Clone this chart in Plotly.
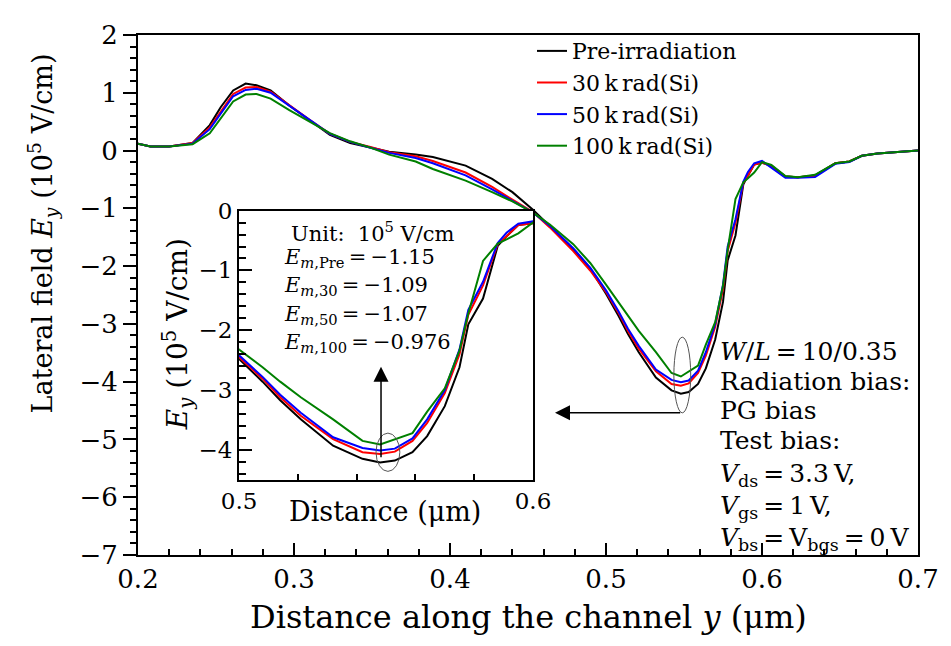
import plotly.graph_objects as go

# ---------------- data ----------------
distance = [0.200, 0.208, 0.220, 0.235, 0.246, 0.253, 0.261, 0.269, 0.276, 0.285,
            0.297, 0.310, 0.323, 0.336, 0.349, 0.361, 0.378, 0.389, 0.410, 0.427,
            0.440, 0.453, 0.464, 0.479, 0.490, 0.500, 0.508, 0.514, 0.521, 0.532,
            0.542, 0.548, 0.553, 0.559, 0.564, 0.570, 0.575, 0.578, 0.583, 0.588,
            0.591, 0.595, 0.600, 0.606, 0.615, 0.623, 0.634, 0.647, 0.656, 0.664,
            0.674, 0.700]

ey_pre = [0.12, 0.07, 0.07, 0.13, 0.44, 0.75, 1.04, 1.16, 1.13, 1.04,
          0.78, 0.53, 0.27, 0.13, 0.05, -0.02, -0.07, -0.11, -0.26, -0.49,
          -0.72, -1.02, -1.31, -1.71, -2.05, -2.48, -2.86, -3.17, -3.49, -3.93,
          -4.15, -4.21, -4.18, -4.04, -3.77, -3.27, -2.62, -1.90, -1.47, -0.59,
          -0.43, -0.24, -0.21, -0.26, -0.45, -0.46, -0.43, -0.22, -0.19, -0.09,
          -0.05, 0.00]

ey_30 = [0.12, 0.07, 0.07, 0.13, 0.40, 0.68, 0.98, 1.09, 1.10, 1.02,
         0.78, 0.53, 0.29, 0.15, 0.06, -0.03, -0.10, -0.18, -0.38, -0.63,
         -0.85, -1.06, -1.33, -1.74, -2.08, -2.45, -2.81, -3.12, -3.43, -3.82,
         -4.04, -4.07, -4.03, -3.85, -3.55, -3.05, -2.40, -1.74, -1.25, -0.56,
         -0.43, -0.24, -0.21, -0.27, -0.45, -0.46, -0.44, -0.22, -0.19, -0.09,
         -0.05, 0.00]

ey_50 = [0.12, 0.07, 0.07, 0.12, 0.37, 0.64, 0.94, 1.05, 1.07, 1.00,
         0.77, 0.53, 0.29, 0.15, 0.05, -0.04, -0.13, -0.22, -0.43, -0.67,
         -0.87, -1.07, -1.30, -1.69, -2.03, -2.42, -2.78, -3.08, -3.38, -3.79,
         -3.97, -4.01, -3.98, -3.81, -3.49, -3.00, -2.32, -1.66, -1.19, -0.54,
         -0.37, -0.22, -0.18, -0.30, -0.47, -0.47, -0.46, -0.23, -0.20, -0.09,
         -0.05, 0.00]

ey_100 = [0.12, 0.07, 0.07, 0.11, 0.30, 0.55, 0.85, 0.97, 0.98, 0.90,
          0.70, 0.50, 0.30, 0.16, 0.05, -0.07, -0.19, -0.32, -0.52, -0.72,
          -0.88, -1.07, -1.28, -1.62, -1.95, -2.32, -2.62, -2.86, -3.12, -3.49,
          -3.85, -3.91, -3.82, -3.72, -3.36, -2.97, -2.34, -1.72, -0.84, -0.55,
          -0.48, -0.38, -0.20, -0.25, -0.44, -0.46, -0.42, -0.22, -0.19, -0.09,
          -0.05, 0.00]

series_names = ["Pre-irradiation", "30\u2009k\u2009rad(Si)", "50\u2009k\u2009rad(Si)", "100\u2009k\u2009rad(Si)"]
series_values = [ey_pre, ey_30, ey_50, ey_100]
series_colors = ["#000000", "#ff0000", "#0000ff", "#008000"]

x_ticks_main = [0.2, 0.3, 0.4, 0.5, 0.6, 0.7]
y_ticks_main = [2, 1, 0, -1, -2, -3, -4, -5, -6, -7]
x_ticks_inset = [0.5, 0.6]
y_ticks_inset = [0, -1, -2, -3, -4]

em_lines = ["<i>E</i><sub><i>m</i>,Pre</sub>\u2009=\u2009\u22121.15",
            "<i>E</i><sub><i>m</i>,30</sub>\u2009=\u2009\u22121.09",
            "<i>E</i><sub><i>m</i>,50</sub>\u2009=\u2009\u22121.07",
            "<i>E</i><sub><i>m</i>,100</sub>\u2009=\u2009\u22120.976"]

info_lines = ["<i>W</i>/<i>L</i>\u2009=\u200910/0.35",
              "Radiation bias:",
              "PG bias",
              "Test bias:",
              "<i>V</i><sub>ds</sub>\u2009=\u20093.3\u2009V,",
              "<i>V</i><sub>gs</sub>\u2009=\u20091\u2009V,",
              "<i>V</i><sub>bs</sub>\u2009=\u2009V<sub>bgs</sub>\u2009=\u20090\u2009V"]

FONT = "DejaVu Serif"

fig = go.Figure()
for name, vals, col in zip(series_names, series_values, series_colors):
    fig.add_trace(go.Scatter(x=distance, y=vals, mode="lines", name=name,
                             line=dict(color=col, width=2), xaxis="x", yaxis="y"))
for name, vals, col in zip(series_names, series_values, series_colors):
    fig.add_trace(go.Scatter(x=distance, y=vals, mode="lines", name=name, showlegend=False,
                             line=dict(color=col, width=2), xaxis="x2", yaxis="y2"))

# layout geometry (page pixels; the page body adds an 8 px offset)
OFF = 8
W, H = 951 - OFF, 646 - OFF
PLOT_L, PLOT_R, PLOT_T, PLOT_B = 138, 920, 25, 555   # page pixels of the main plot frame
L = PLOT_L - OFF
R = W - (PLOT_R - OFF)
T = PLOT_T - OFF
B = H - (PLOT_B - OFF)
pw, ph = PLOT_R - PLOT_L, PLOT_B - PLOT_T


def px_x(p):
    return (p - PLOT_L) / pw


def px_y(p):
    return (PLOT_B - p) / ph


inset_dom_x = [px_x(239.3), px_x(534)]
inset_dom_y = [px_y(478.3), px_y(204)]

fig.update_layout(
    width=W, height=H,
    margin=dict(l=L, r=R, t=T, b=B),
    paper_bgcolor="white", plot_bgcolor="white",
    font=dict(family=FONT, color="black", size=22),
    showlegend=True,
    legend=dict(x=px_x(533), y=px_y(20), xanchor="left", yanchor="top",
                bgcolor="rgba(0,0,0,0)", font=dict(size=22, family=FONT),
                tracegroupgap=0),
    xaxis=dict(domain=[0, 1], range=[0.2, 0.7], tickvals=x_ticks_main,
               ticktext=[f"{v:.1f}" for v in x_ticks_main],
               showline=True, linecolor="black", linewidth=2, mirror=True,
               ticks="inside", ticklen=12, tickwidth=1.5, tickcolor="black",
               minor=dict(dtick=0.02, ticks="inside", ticklen=6, tickwidth=1.5, tickcolor="black"),
               showgrid=False, zeroline=False, tickfont=dict(size=26)),
    yaxis=dict(domain=[0, 1], range=[-7, 2], tickvals=y_ticks_main,
               showline=True, linecolor="black", linewidth=2, mirror=True,
               ticks="outside", ticklen=13, tickwidth=1.5, tickcolor="black",
               minor=dict(dtick=0.2, ticks="outside", ticklen=6, tickwidth=1.5, tickcolor="black"),
               showgrid=False, zeroline=False, tickfont=dict(size=26)),
    xaxis2=dict(domain=inset_dom_x, anchor="y2", range=[0.5, 0.6],
                tickvals=x_ticks_inset, ticktext=["0.5", "0.6"],
                showline=True, linecolor="black", linewidth=2, mirror=True,
                ticks="inside", ticklen=6, tickwidth=1.5, tickcolor="black",
                minor=dict(dtick=0.02, ticks="inside", ticklen=6, tickwidth=1.5, tickcolor="black"),
                showgrid=False, zeroline=False, tickfont=dict(size=23)),
    yaxis2=dict(domain=inset_dom_y, anchor="x2", range=[-4.5, 0],
                tickvals=y_ticks_inset,
                showline=True, linecolor="black", linewidth=2, mirror=True,
                ticks="inside", ticklen=13, tickwidth=1.5, tickcolor="black",
                minor=dict(dtick=0.2, ticks="inside", ticklen=7, tickwidth=1.5, tickcolor="black"),
                showgrid=False, zeroline=False, tickfont=dict(size=23)),
)

annotations = []
# axis titles
annotations.append(dict(text="Distance along the channel <i>y</i> (\u03bcm)", xref="paper", yref="paper",
                        x=px_x(529), y=px_y(618), showarrow=False, font=dict(size=32),
                        xanchor="center", yanchor="middle"))
annotations.append(dict(text="Lateral field <i>E</i><sub><i>y</i></sub> (10<sup>5</sup> V/cm)", xref="paper",
                        yref="paper", x=px_x(42), y=px_y(227), showarrow=False, font=dict(size=27),
                        textangle=-90, xanchor="center", yanchor="middle"))
annotations.append(dict(text="Distance (\u03bcm)", xref="paper", yref="paper",
                        x=px_x(386), y=px_y(511), showarrow=False, font=dict(size=27),
                        xanchor="center", yanchor="middle"))
annotations.append(dict(text="<i>E</i><sub><i>y</i></sub> (10<sup>5</sup> V/cm)", xref="paper",
                        yref="paper", x=px_x(178), y=px_y(330), showarrow=False, font=dict(size=28),
                        textangle=-90, xanchor="center", yanchor="middle"))
# inset texts
annotations.append(dict(text="Unit:  10<sup>5</sup> V/cm", xref="paper", yref="paper",
                        x=px_x(374), y=px_y(226), showarrow=False, font=dict(size=21),
                        xanchor="center", yanchor="middle"))
for line, py in zip(em_lines, [252, 281, 310, 339]):
    annotations.append(dict(text=line, xref="paper", yref="paper", x=px_x(282), y=px_y(py),
                            showarrow=False, font=dict(size=21), xanchor="left", yanchor="middle"))
for line, py in zip(info_lines, [348, 378, 408, 438, 473, 506, 539]):
    annotations.append(dict(text=line, xref="paper", yref="paper", x=px_x(719), y=px_y(py),
                            showarrow=False, font=dict(size=25), xanchor="left", yanchor="middle"))
# arrows
annotations.append(dict(x=0.4673, y=-4.54, ax=0.5485, ay=-4.54, xref="x", yref="y", axref="x", ayref="y",
                        text="", showarrow=True, arrowhead=2, arrowsize=2, arrowwidth=1.5,
                        arrowcolor="black"))
annotations.append(dict(x=0.5483, y=-2.61, ax=0.5483, ay=-4.15, xref="x2", yref="y2", axref="x2",
                        ayref="y2", text="", showarrow=True, arrowhead=2, arrowsize=2,
                        arrowwidth=1.5, arrowcolor="black"))
fig.update_layout(annotations=annotations)

fig.add_shape(type="circle", xref="x", yref="y", x0=0.5435, x1=0.5543, y0=-4.54, y1=-3.23,
              line=dict(color="#555555", width=1))
fig.add_shape(type="circle", xref="x2", yref="y2", x0=0.5466, x1=0.5547, y0=-4.36, y1=-3.72,
              line=dict(color="#555555", width=1))

fig.write_html("out.html")
